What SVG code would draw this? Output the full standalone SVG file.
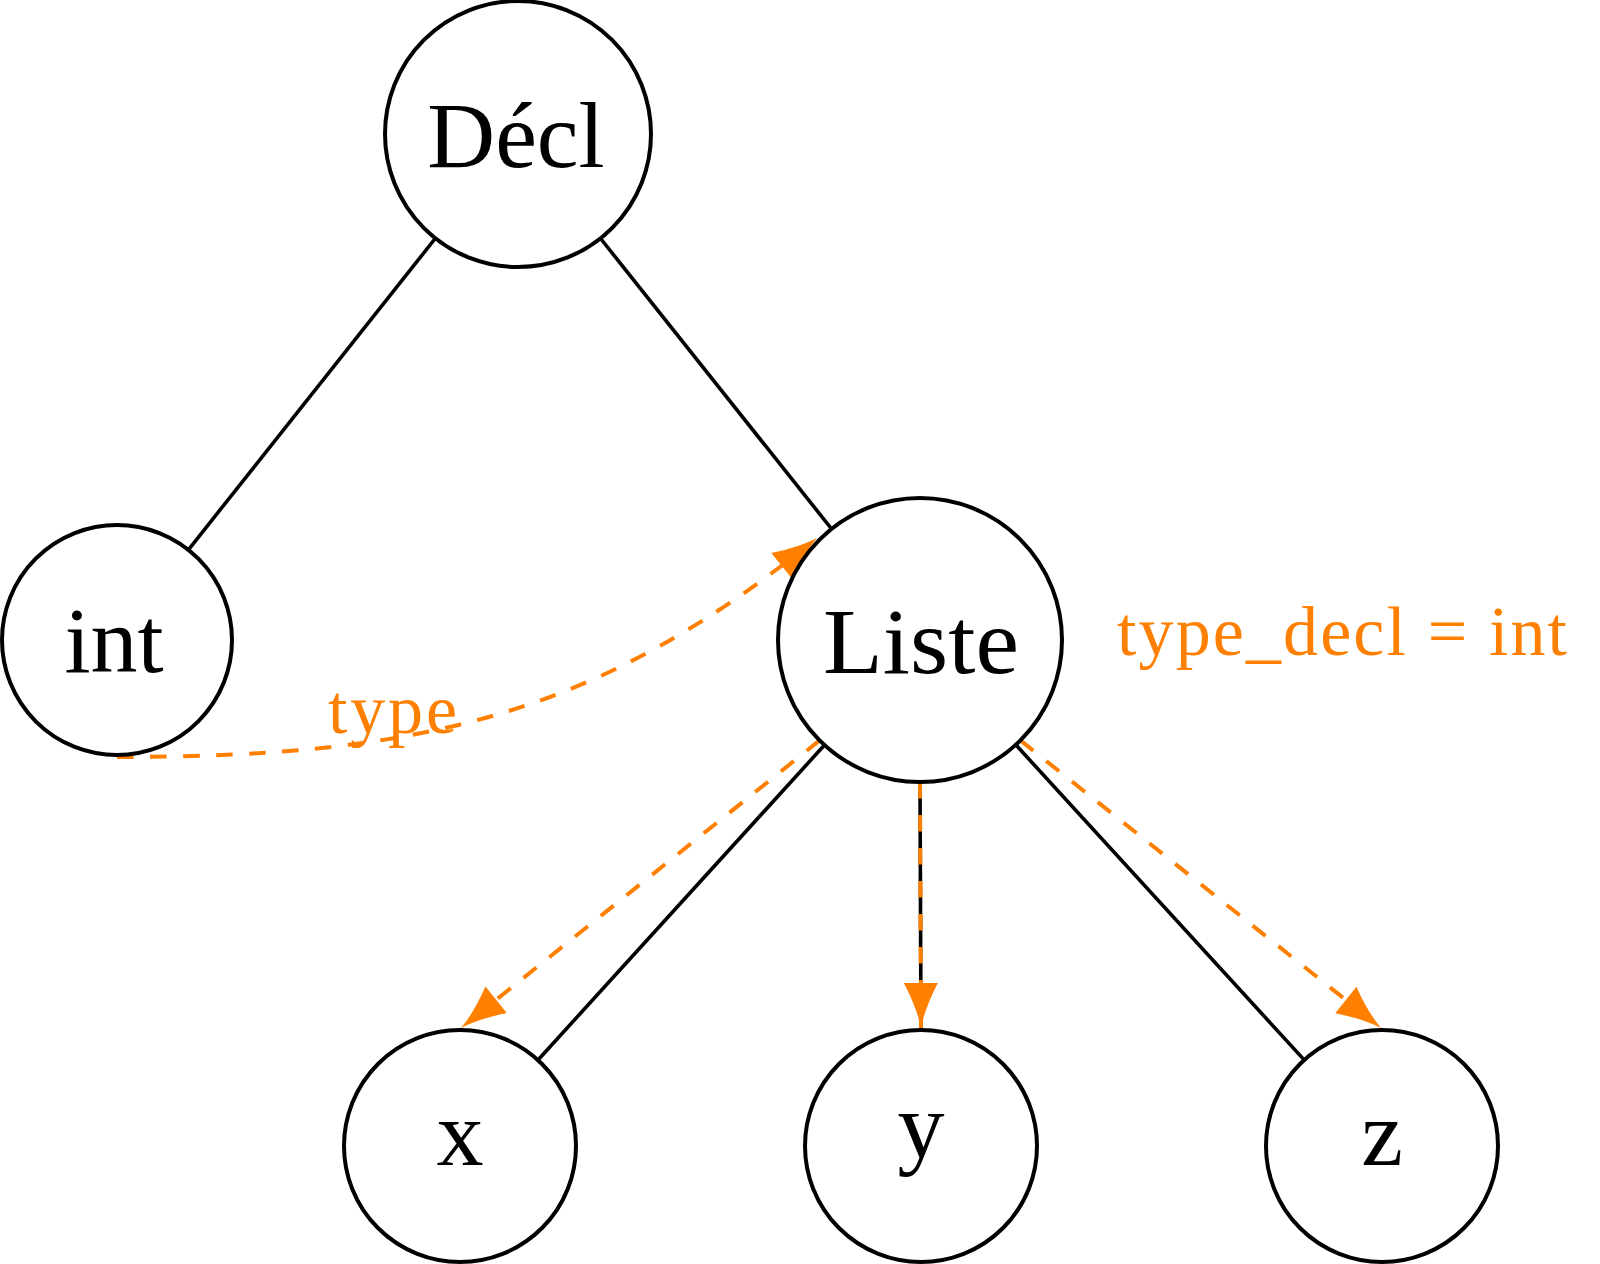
<svg xmlns="http://www.w3.org/2000/svg" width="1600" height="1264" viewBox="0 0 1600 1264">
<style>
.node{fill:#fff;stroke:#000;stroke-width:4}
.lbl{font-family:"Liberation Serif","DejaVu Serif",serif;font-size:94px;fill:#000;text-anchor:middle}
.edge{stroke:#000;stroke-width:3.6;fill:none}
.flow{stroke:#FF8000;stroke-width:4;fill:none;stroke-dasharray:16.5 16.5;marker-end:url(#arr)}
.olbl{font-family:"Liberation Serif","DejaVu Serif",serif;font-size:70px;fill:#FF8000}
</style>
<defs>
<marker id="arr" markerUnits="userSpaceOnUse" viewBox="-46 -18 48 36" refX="0" refY="0" markerWidth="48" markerHeight="36" orient="auto" overflow="visible">
<path d="M0,0 Q-20,-4 -45,-17 L-45,17 Q-20,4 0,0 Z" fill="#FF8000"/>
</marker>
</defs>
<rect width="1600" height="1264" fill="#fff"/>
<g id="connectors">
<line class="edge" x1="434.8" y1="239" x2="188.4" y2="549.8"/>
<line class="edge" x1="601" y1="239" x2="831.6" y2="529"/>
<line class="edge" x1="824.5" y1="745" x2="538" y2="1060"/>
<line class="edge" x1="920" y1="782" x2="921" y2="1030"/>
<line class="edge" x1="1015.8" y1="744.8" x2="1303.7" y2="1059.4"/>
<path class="flow" d="M117,757 C424,757 598.6,714.4 817,538"/>
<line class="flow" x1="819.6" y1="740.4" x2="461" y2="1028"/>
<line class="flow" x1="920" y1="782" x2="921" y2="1028"/>
<line class="flow" x1="1020.4" y1="740.4" x2="1381" y2="1028"/>
</g>
<g id="node-decl">
<circle class="node" cx="518" cy="134" r="133"/>
<text class="lbl" x="516" y="167">Décl</text>
</g>
<g id="node-int">
<circle class="node" cx="117" cy="640" r="115"/>
<text class="lbl" x="114" y="672">int</text>
</g>
<g id="node-liste">
<circle class="node" cx="920" cy="640" r="142"/>
<text class="lbl" x="921" y="673" textLength="196" lengthAdjust="spacingAndGlyphs">Liste</text>
</g>
<g id="node-x">
<circle class="node" cx="460" cy="1146" r="116"/>
<text class="lbl" x="460" y="1165">x</text>
</g>
<g id="node-y">
<circle class="node" cx="921" cy="1146" r="116"/>
<text class="lbl" x="921" y="1157">y</text>
</g>
<g id="node-z">
<circle class="node" cx="1382" cy="1146" r="116"/>
<text class="lbl" x="1382" y="1165">z</text>
</g>
<g id="labels">
<text class="olbl" x="328" y="733" textLength="129" lengthAdjust="spacing">type</text>
<text class="olbl" x="1117" y="655" textLength="450" lengthAdjust="spacing">type_decl = int</text>
</g>
</svg>
